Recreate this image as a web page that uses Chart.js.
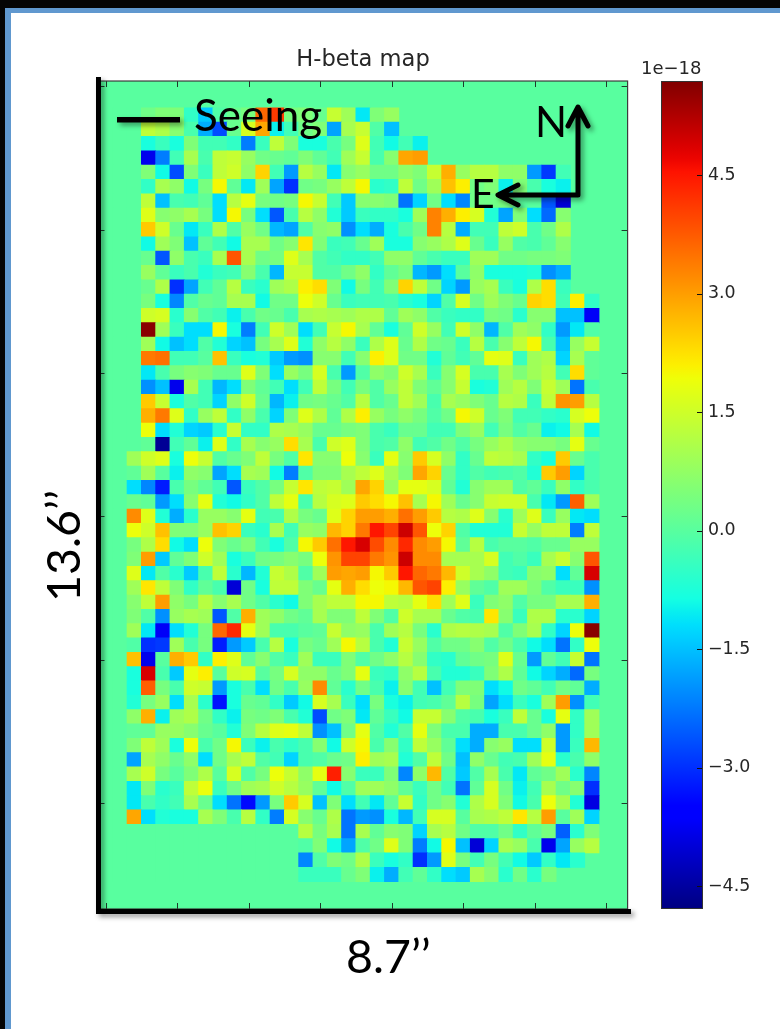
<!DOCTYPE html>
<html><head><meta charset="utf-8">
<script src="https://cdn.jsdelivr.net/npm/chart.js@4"></script>
<style>
html,body{margin:0;padding:0;width:780px;height:1029px;overflow:hidden;background:#fff}
#stage{position:relative;width:780px;height:1029px;background:#fff;overflow:hidden}
canvas{position:absolute}
.frameT{position:absolute;left:0;top:0;width:780px;height:8px;background:#050505}
.frameTb{position:absolute;left:5px;top:8px;width:775px;height:4.5px;background:#6098cf}
.frameL{position:absolute;left:0;top:0;width:5.3px;height:1029px;background:#050505}
.frameLb{position:absolute;left:5.3px;top:8px;width:5.7px;height:1021px;background:#6098cf}
.big{position:absolute;font-family:Lato,sans-serif;font-size:44px;line-height:44px;color:#000;white-space:nowrap}
.cb{position:absolute;font-family:"DejaVu Sans",sans-serif;font-size:18px;line-height:18px;color:#262626;white-space:nowrap}
svg{position:absolute;left:0;top:0}
</style></head><body>
<div id="stage">
<canvas id="map" width="780" height="1029" style="left:0;top:0"></canvas>
<canvas id="bar" width="139" height="1029" style="left:641px;top:0"></canvas>
<div class="frameT"></div><div class="frameTb"></div><div class="frameL"></div><div class="frameLb"></div>
<div class="cb" style="left:641px;top:59px">1e−18</div>
<svg width="780" height="1029">
<defs><filter id="sh" x="-20%" y="-20%" width="140%" height="140%"><feDropShadow dx="3" dy="3" stdDeviation="2.5" flood-color="#000" flood-opacity="0.4"/></filter></defs>
<g filter="url(#sh)" stroke="#000" fill="none">
<path d="M98.5 77V914M96 911.5H631" stroke-width="5"/>
<path d="M117 119.7H180" stroke-width="5.5"/>
<path d="M578 195V108M568 126L578 107L588 126M578 195H499M518 185L498 195L518 205" stroke-width="5" stroke-linejoin="round" stroke-linecap="round"/>
</g></svg>
<div class="big" style="left:194px;top:92px">Seeing</div>
<div class="big" style="left:535px;top:99px;font-size:42px">N</div>
<div class="big" style="left:471px;top:171px;font-size:41px">E</div>
<div class="big" style="left:346px;top:933px;font-size:46.5px">8.7’’</div>
<div class="big" style="left:62px;top:546px;font-size:46.5px;transform:translate(-50%,-50%) rotate(-90deg);transform-origin:center">13.6’’</div>
</div>
<script>
const titleText = "H-beta map";
const xTicks = [0,5,10,15,20,25,30,35];
const yTicks = [0,10,20,30,40,50];
const colorTicks = [-4.5,-3,-1.5,0,1.5,3,4.5];
const colorMin = -4.79, colorMax = 5.69;
const rows = [
[],
[],
[0,0,0,.3,.5,.5,-.5,-1.4,-.1,.2,.4,3.6,4.1,.4,.5,.2,1.4,.9,-1.1,.5,.8],
[0,0,0,1.3,1.1,.6,-.2,-1.7,-2.7,.2,1.6,2.9,-1,-.3,.3,.5,-1.8,1,1.4,-.1,-1.5],
[0,0,0,-.8,-.4,-.8,.5,-.3,-.3,-.5,-2.2,-.4,1.3,.5,-.8,-.8,-.2,.4,1.7,-.3,-.9,-.3,-1],
[0,0,0,-3.8,-2.2,-.3,1,-.2,1.3,1.4,.8,.3,.2,.1,.5,.1,-.3,.9,1.4,-.2,.6,2.9,3],
[0,0,0,.5,-.9,-2.7,.5,-.4,1.3,1.5,.7,2.4,-.3,-1.9,1.2,.8,-1.1,.6,.8,.3,.3,.7,.5,1.4,2.8,.8,1.2,1.2,.7,.7,-1.9,-2.9,-.3],
[0,0,0,-.5,1,.7,-.9,.4,2,.1,-1.1,.9,-1.8,-3,.3,.4,.8,1.3,2,-.6,-.5,1.3,.3,.9,2.6,2.1,.3,.5,-1,.5,-.2,-.8,-1],
[0,0,0,1.3,-1.5,-.2,-.3,.1,-1.2,1.2,1.8,.4,.3,.4,2,1.4,-.3,-1.4,.6,.6,.5,-2.3,-1.3,.3,-1.2,-2.1,.3,.3,.4,0,0,-2.6,-4],
[0,0,0,1.7,.6,.7,1,.4,-1.2,2,.4,-1.2,-2.6,-.2,1.2,.7,-.7,-1.4,-.4,-.5,-.5,-.8,.9,3.3,2.8,2.1,1.6,-.7,-1.8,.5,-1.2,-2.4,.6],
[0,0,0,2.5,1.5,.2,-1.1,-.4,1.1,-.1,.8,.3,-1.6,-1.8,-.1,.6,.7,-2,-1.2,-1.7,-.8,-.2,.3,3.3,1.2,-1.7,-.3,-.3,1.3,1.5,-.2,.3,1.1],
[0,0,0,-.9,.9,.5,-1.5,.1,-.3,-.9,1,1,.3,.6,2.2,.5,-.4,-.3,.2,.9,-.8,-.8,.6,.8,1.1,1.7,.2,-.4,.8,-.1,-.2,.1,.6],
[0,0,0,.2,-2.6,.7,-.2,-.4,1,3.8,1,.3,.4,1.7,1,-.1,-.3,-.5,-.5,-.3,.7,.7,.1,-.2,-.4,-.4,.9,.9,.3,.3,.4,.4,.5],
[0,0,0,.8,.1,-.4,-.2,-.7,-.4,-.3,.6,-.2,-1.6,1.4,1.4,-.1,-.1,.3,.7,-.5,.1,.4,-1.6,-1.9,-1.2,0,.7,-.8,-.8,-.8,-.7,-2,-1.7],
[0,0,0,.2,1.1,-3,-1.8,-.3,.1,1.2,-.4,-.6,.9,1.1,2.1,2.3,.5,-.9,.4,-.3,.5,2.4,1.3,.3,-1.3,-1.9,.8,1,-.4,-.8,1.1,2.3,-.4],
[0,0,0,.4,-.8,-2.1,-.1,.2,.1,1,1,-.9,.3,.3,1.9,1.5,.2,-.4,-.3,-.3,-.2,-.6,-.8,-1.3,-.1,1.6,.3,.9,.5,.2,2.4,2.3,-.3,2.1,-.5],
[0,0,0,1.5,1.6,-.6,.6,-.1,-.3,-1,-.2,.3,.2,-.2,1,1.1,1,.9,1.1,1.1,.1,.9,.7,-.1,-.4,-.5,-.5,.4,.3,-.6,.6,.6,-1.5,-1.5,-3.7],
[0,0,0,5.6,.9,-.4,-1.2,-1.2,2,-.8,-2.2,-.3,1.5,.9,-1.2,-.3,1.4,2,1,.1,-.8,.1,1.5,.8,-.3,1.5,.7,-1.6,-.1,.9,.7,-.5,-1.9,-1.1,-.1],
[0,0,0,.9,-.9,-1.5,-1.2,-.1,-.7,-1.3,-1.5,.4,1,1.7,-.7,.7,1.2,.7,-.4,1.1,1.7,.2,1.1,.3,.2,-.4,1.2,-.2,.6,1.3,2,-.2,-1.5,.8,1.4],
[0,0,0,3.4,3.5,-.3,-.3,0,2.6,-.4,-.8,-.7,-1.4,-1.9,-2,.6,.6,-.3,.6,2.1,1.7,.3,.3,-.7,.1,-.3,.1,1.8,1.7,-.4,.9,1.1,-1.3,1,.1],
[0,0,0,-1.1,-.2,.4,.6,.5,.2,.2,1.7,.5,-1.2,.8,.4,1.6,-.2,-1.9,-.1,.7,.5,1.5,1,-.4,.6,1.6,-.2,-.2,1,.5,.9,1.2,-.3,2.3,.1],
[0,0,0,-2,-1.5,-3.8,1,-.3,-1.6,-1.2,.5,.1,-.3,-1.2,-.3,1.3,.4,-.3,.4,-.1,.8,1.3,.5,.1,.6,1.4,-.8,-.7,.9,1.2,.5,1.4,.9,-2.3,-.2],
[0,0,0,2.5,1.4,-.8,-.1,-.3,-1.3,.7,1.5,.2,-1.6,-1,.3,.4,.2,-.1,1.2,-.1,.2,1.3,.9,-.2,1,.8,.5,.2,1.2,1.1,-.4,1.3,3.1,3,1.2],
[0,0,0,2.8,3.4,1.7,-.5,.8,1.3,-.5,.7,-.2,-1.3,.5,1.7,1.1,.1,1.1,2.1,.8,.4,.7,.4,-.1,.3,2,1.5,.2,.5,-.3,-.3,-.5,-.6,1.6,1.9],
[0,0,0,1.9,-1.2,-.7,-1.3,-1.4,-.6,1.4,-.5,-.5,1.1,1,.8,.2,.2,.4,.5,-.2,-.4,.2,.2,-.3,-.3,.5,.8,-.3,.4,-.1,.2,-1,-.9,1,-.9],
[0,0,0,.1,-4.6,-.3,.1,-1,1.7,-.5,1,.6,.8,2.3,1,-.2,1.5,1.7,.5,-.2,-.1,.7,-.3,-.1,.3,-.1,.4,.8,1.1,.7,.6,.6,.4,1.8,.2],
[0,0,.9,1.5,1.7,-.8,1.9,1.4,-.1,.2,.5,1.3,.4,-.1,2.2,.6,.6,1.9,.6,-.4,1.8,.6,2.5,1.6,.7,-.5,.2,1.3,1.2,1,-.5,-.8,2.5,.2,-.2],
[0,0,.1,.9,0,-1,.7,.6,-1.8,-1.2,1,.9,-.9,-2.2,-.1,.5,.5,1,1.3,1.7,1,.5,2.9,2.4,.2,-.5,-.1,-.3,-.2,-.1,-.7,2.5,3,-1.3,-.2],
[0,0,-1.2,-2.1,-3.2,-.2,.4,.1,-.3,-2.6,-.4,-.1,.4,1.4,2.2,1.3,1.4,.9,2.9,2.4,.8,1.8,1.8,1.6,.1,-.7,.6,.9,.9,-.1,.1,-.4,.7,-.5,-.2],
[0,0,.2,.1,-1.9,-1.2,.6,1.8,-.7,-.9,-.5,-.1,1.3,1.8,-.2,1.2,1.6,1.7,2.5,2.3,2,2.6,1,2,.9,.2,.6,1.4,1.5,1.5,-.2,-1.1,-1.9,3.7,.9],
[0,0,3.2,1.7,-.7,-1.7,-.6,.8,.8,.6,1.8,-.3,-.2,1.1,.4,.2,1.7,2.4,3,3,2.8,3.5,3,2.5,1.2,1.1,1.7,.6,-.6,.9,1.7,-.4,.8,-1.1,-1.2],
[0,0,1.9,1.5,2.6,.5,.5,.8,2.6,2.4,-.4,-.6,1,-.3,.8,.7,2.7,2.4,3.4,4.5,4,5,3.8,1.9,2.4,-.1,-.7,-.7,-.7,1.4,.8,1.3,1.3,-2.2,1.3],
[0,0,.4,1.1,2.3,-.9,-1.2,1.9,.5,.2,.5,-.3,-.8,-.1,2,2.5,3.5,4.5,4.9,3.9,3.2,4.3,3.2,3,2,.1,1.2,-.2,0,0,-.1,.2,.2,.8,.8],
[0,0,.5,3,-1.4,.1,.5,1.5,.9,-.8,-.4,.3,.4,.6,.4,1.9,3.1,4,4,3.4,3.1,5,3.2,3.2,1,1,1,1.6,-.3,-.1,-.4,1,1.4,.6,3.8],
[0,0,1.7,-1.1,-.1,-.6,-1.4,-.2,1.3,-.6,-1.6,-.7,1.4,1.1,-.1,.9,3,2.9,3,2,2.5,4.5,3.6,3.4,2.7,1.5,1,.7,-.3,-.4,.6,.7,-1.2,.1,4.9],
[0,0,.9,2.2,1.3,.5,-.5,.1,-.2,-4,.3,-.8,1.3,1.3,.5,.2,1.8,2.8,2.3,1.9,2,2.7,3.8,4,2.1,.8,.1,-.1,.9,.9,.5,-.1,-.4,-.4,-2],
[0,0,.6,1.3,3,.7,.4,1.2,.6,1,.3,-.1,-.6,-.9,.5,1,1.3,1.3,2,2,1.3,1.2,1.8,2.3,.9,1.7,-.4,.5,.7,-.1,.4,.4,1,1,2.8],
[0,0,.5,-.1,-2,.8,1,.9,-2.6,-.1,2.8,.9,.7,.3,.1,1,.5,.5,1.3,.5,-.1,1.5,1,1,.2,-.1,-.2,2.2,.6,-.4,1.1,1.1,-.6,-.6,-1.3],
[0,0,.9,-1.1,-3.7,-1.2,-.7,.4,3.6,4.3,1.8,.9,-.2,-.2,0,.1,1.4,.7,.8,-.2,.9,1.2,.4,-.6,1.1,1.2,1.1,1,-.1,.5,1,-.5,-1.3,1.9,5.6],
[0,0,-.1,-3,-2.9,.9,-.2,.4,-3.2,-1.9,-1.4,-.2,1.2,-.8,.4,.2,.9,2,1.2,-.2,-.7,1.4,.8,-.1,.3,.3,.6,-.1,.3,-.2,-.9,-1.2,-2.3,-.5,1.9],
[0,0,2.6,-3.8,0,2.8,2.5,-.5,2.1,1.7,.1,.6,-.1,-.4,.9,-.4,-.4,.5,-.1,.3,.7,1.2,.6,-.5,-.6,.1,.3,.4,1.7,.2,-1.9,.1,-.3,1.4,-2.3],
[0,0,-.8,4.9,-.2,-1.4,1.8,2.1,0,1.5,1.6,0,.4,1.6,.7,.7,.2,.5,1.8,-.4,-.5,.7,1.2,-.2,-.7,-.7,-.4,.5,1.1,.1,-.9,-1.3,-1.7,-2.4,.4],
[0,0,-.8,3.7,.4,-.2,1.5,1.4,-1.9,-.8,-.2,-1.2,.3,-.2,.8,3.2,.1,-.6,.3,-.2,-1,.6,-.3,-1.5,-.3,.5,.5,-1.2,-.9,.3,.1,-.3,.3,.1,-1.7],
[0,0,-.7,.4,.8,-1.2,1,-.6,-3.3,-.8,.2,.1,-.5,-1.4,-.9,1.6,1,-.4,-1.2,.4,-.8,-1,-.3,-.2,.1,1.2,.4,-1.8,-1.2,-.4,-.8,.9,3,-2,-.3],
[0,0,.7,2.8,-1,.9,1.1,.3,-.5,-1,.4,.3,.5,-.2,-.7,-2.7,.3,.5,-1.1,.1,-.4,-.9,1.4,1.4,.6,-.1,-.2,-.8,-.4,1.3,.2,-.8,1.8,-.5,.9],
[0,0,.1,.1,.8,.8,.6,.2,0,-.7,.5,1.2,1.7,1.8,1.3,-2,-1.5,.3,1.8,-.1,-.7,-.1,1.8,.5,-.2,-.2,-1.7,-1.7,-.2,-.2,.2,.7,-1.9,-.5,.9],
[0,0,.5,1.3,.9,-.8,1.9,-.2,.3,2,-.4,-1,-.2,-.5,-.2,.6,-.9,1.5,2,-.2,.6,-.5,1.3,.8,.1,-1.2,-1.7,.6,.8,-1.2,-1.2,1.5,-1.9,-.4,2.7],
[0,0,-1.8,1,.7,.2,.7,-1.2,.3,1,1.3,-.1,-.3,-1.3,-.2,-.1,.2,.3,2.1,.9,1,-.7,-.1,1.3,.3,-1.5,.7,.2,-.3,-.2,.9,1.8,-.6,-.2,.7],
[0,0,1,1.5,.4,0,.5,1.1,0,1.6,-.1,.4,1.9,1.4,.7,1.8,4.4,.6,-.4,-.4,.5,-2.1,.7,2.7,-.1,-1.4,-.1,1,-.2,-1.1,.1,.3,.9,-.6,-2.1],
[0,0,-1.1,.5,-.6,-.4,1.3,1.9,-.4,.3,.9,1,1.5,1.2,.8,.1,-.9,-.1,.9,.9,.7,.1,-.4,.3,-.3,-2.3,.1,1.6,.3,-1,-.3,1,.3,.6,-3],
[0,0,-1.1,-.2,-.5,-.3,1,.2,-1.2,-2.3,-3.4,-1.9,.4,2.5,1.6,-1.5,.5,-1.2,-.3,-1.1,.1,1.4,-.5,.3,.6,-.7,1.1,1.6,.5,-.9,-.2,1.9,1,-.7,-3.9],
[0,0,2.9,-1.2,-.7,-.8,-.8,1,.5,-.2,1.2,-.5,-2.2,1.6,.6,.2,1.1,-2.3,-1.9,-2,-.8,-1.6,-.3,1.6,1.6,0,1,1.1,1.3,2.2,1.2,3,0,.9,-1.3],
[0,0,0,0,0,0,0,0,0,0,0,0,0,0,1.2,.4,1,-2.3,1,.1,.6,.5,-1.3,1,1.2,.3,-.1,-.1,.3,-.5,.1,.4,-2.5,-.6,.5],
[0,0,0,0,0,0,0,0,0,0,0,0,0,0,-.1,.5,-.9,-1.8,-.1,.3,1.7,.5,-2.2,-.9,2,-1.5,-4,-1.3,1,.8,-.2,-3.8,-1.8,.8,1.2],
[0,0,0,0,0,0,0,0,0,0,0,0,0,0,-2.1,-.1,.5,.3,1.1,-.4,-.8,-.5,-3,-1.9,1.7,.4,-.3,.4,-.3,-.9,-1.4,-.5,-1.1,-.6],
[0,0,0,0,0,0,0,0,0,0,0,0,0,0,-.4,-.4,-.4,.2,.5,-1,-1.7,-.3,.1,-.5,-1.2,-1.4,1,.6,-.6,.3,-.6,.4],
[],
[]
];
const rowMin = -0.37, rowMax = 57.41, colMin = -0.5, colMax = 36.5;

function ramp(v, pts){
  for(let i=1;i<pts.length;i++){
    if(v<=pts[i][0]){const a=pts[i-1],b=pts[i];return a[1]+(b[1]-a[1])*(v-a[0])/(b[0]-a[0]);}
  }
  return pts[pts.length-1][1];
}
function jetFrac(t){
  t=Math.max(0,Math.min(1,t));
  const r=ramp(t,[[0,0],[.35,0],[.66,1],[.89,1],[1,.5]]);
  const g=ramp(t,[[0,0],[.125,0],[.375,1],[.64,1],[.91,0],[1,0]]);
  const b=ramp(t,[[0,.5],[.11,1],[.34,1],[.65,0],[1,0]]);
  return `rgb(${Math.round(r*255)},${Math.round(g*255)},${Math.round(b*255)})`;
}
const jet = v => jetFrac((v-colorMin)/(colorMax-colorMin));

const cells = [];
rows.forEach((row,r)=>row.forEach((v,c)=>cells.push({x:c,y:[r-.5,r+.5],v})));

const inkTicks = {
  id:'inkTicks',
  afterDraw(ch){
    const {ctx,chartArea:a,scales:{x,y}}=ch;
    ctx.save();
    ctx.strokeStyle='#1f3a2c';ctx.lineWidth=1;
    ctx.beginPath();
    xTicks.forEach(t=>{const p=Math.round(x.getPixelForValue(t))+.5;
      ctx.moveTo(p,a.top);ctx.lineTo(p,a.top+6);ctx.moveTo(p,a.bottom);ctx.lineTo(p,a.bottom-6);});
    yTicks.forEach(t=>{const p=Math.round(y.getPixelForValue(t))+.5;
      ctx.moveTo(a.left,p);ctx.lineTo(a.left+6,p);ctx.moveTo(a.right,p);ctx.lineTo(a.right-6,p);});
    ctx.stroke();
    ctx.strokeStyle='#3c3c3c';ctx.lineWidth=1.2;
    ctx.strokeRect(a.left,a.top,a.right-a.left,a.bottom-a.top);
    ctx.restore();
  }
};
const mapBg = {
  id:'mapBg',
  beforeDatasetsDraw(ch){
    const {ctx,chartArea:a}=ch;
    ctx.save();ctx.fillStyle=jet(0);ctx.fillRect(a.left,a.top,a.right-a.left,a.bottom-a.top);ctx.restore();
  }
};
new Chart(document.getElementById('map'),{
  type:'bar',
  plugins:[mapBg,inkTicks],
  data:{datasets:[{data:cells,backgroundColor:c=>c.raw?jet(c.raw.v):'#000',borderWidth:0,barPercentage:1,categoryPercentage:1,inflateAmount:.4}]},
  options:{
    responsive:false,animation:false,devicePixelRatio:1,
    layout:{padding:{left:98.5,right:152.4,top:47,bottom:120}},
    plugins:{legend:{display:false},tooltip:{enabled:false},
      title:{display:true,text:titleText,color:'#262626',font:{family:'"DejaVu Sans"',size:22.6,weight:'normal'},padding:{top:0,bottom:6.9}}},
    scales:{
      x:{type:'linear',display:false,offset:false,grid:{offset:false},min:colMin,max:colMax},
      y:{type:'linear',display:false,offset:false,min:rowMin,max:rowMax,reverse:true}
    }
  }
});

new Chart(document.getElementById('bar'),{
  type:'bar',
  plugins:[{
    id:'cbTicks',
    afterDraw(ch){
      const {ctx,chartArea:a,scales:{y}}=ch;
      ctx.save();ctx.strokeStyle='#111';ctx.lineWidth=1;ctx.beginPath();
      colorTicks.forEach(t=>{const p=Math.round(y.getPixelForValue(t))+.5;ctx.moveTo(a.right-6,p);ctx.lineTo(a.right,p);});
      ctx.stroke();
      ctx.strokeStyle='#333';ctx.strokeRect(a.left+.5,a.top+.5,a.right-a.left-1,a.bottom-a.top-1);
      ctx.restore();
    }
  }],
  data:{labels:[''],datasets:[{data:[[colorMin,colorMax]],borderWidth:0,barPercentage:1,categoryPercentage:1,
    backgroundColor(c){
      const a=c.chart.chartArea; if(!a) return '#888';
      const g=c.chart.ctx.createLinearGradient(0,a.bottom,0,a.top);
      for(let i=0;i<=64;i++) g.addColorStop(i/64,jetFrac(i/64));
      return g;
    }}]},
  options:{
    responsive:false,animation:false,devicePixelRatio:1,
    layout:{padding:{left:20,right:0,top:81,bottom:120}},
    plugins:{legend:{display:false},tooltip:{enabled:false}},
    scales:{
      x:{type:'category',display:false},
      y:{type:'linear',position:'right',min:colorMin,max:colorMax,
        afterBuildTicks(s){s.ticks=colorTicks.map(v=>({value:v}));},
        afterFit(s){s.width=77;},
        border:{display:false},
        grid:{display:false,drawTicks:false},
        ticks:{padding:5,color:'#262626',font:{family:'"DejaVu Sans"',size:17.4},
          callback:v=>(v<0?'−':'')+Math.abs(v).toFixed(1)}
      }
    }
  }
});
</script>
</body></html>
